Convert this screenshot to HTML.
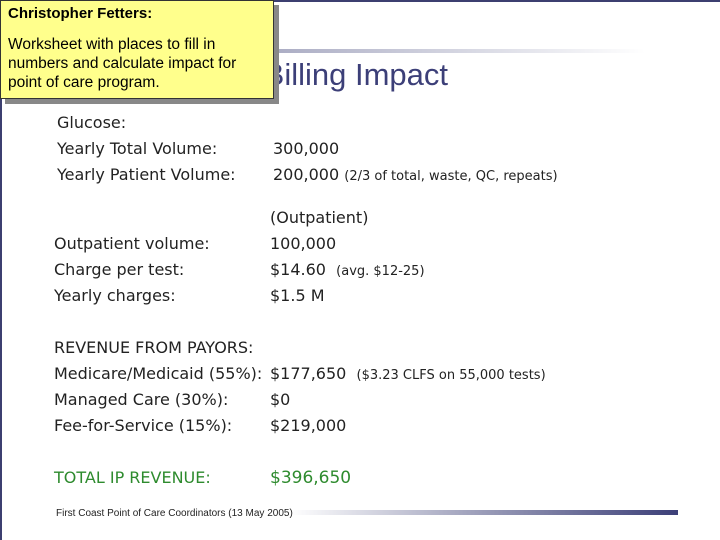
<!DOCTYPE html>
<html><head><meta charset="utf-8"><style>
body{margin:0;width:720px;height:540px;position:relative;background:#fff;overflow:hidden;font-family:"DejaVu Sans","Liberation Sans",sans-serif;}
.t{position:absolute;white-space:nowrap;font-size:16px;color:#222;line-height:20px;}
.s{font-size:13px;}
</style></head><body>
<div style="position:absolute;left:0;top:0;width:720px;height:2px;background:#3c3f70"></div>
<div style="position:absolute;left:0;top:0;width:2px;height:540px;background:#3c3f70"></div>
<div style="position:absolute;left:200px;top:49px;width:445px;height:4px;background:linear-gradient(to right,#9a9cb8,#fff)"></div>
<div class="t" style="right:272px;top:56px;font-family:'Liberation Sans',sans-serif;font-size:31px;line-height:38px;color:#3c3f78">Billing Impact</div>

<div style="position:absolute;left:0;top:0;width:272px;height:97px;background:#ffff8c;border:1px solid #333;box-shadow:5px 5px 0 #888;font-family:'Liberation Sans',sans-serif;color:#000">
<div style="position:absolute;left:7px;top:4px;font-size:15px;font-weight:bold;white-space:nowrap">Christopher Fetters:</div>
<div style="position:absolute;left:7px;top:34px;font-size:15.5px;line-height:19px;white-space:nowrap">Worksheet with places to fill in<br>numbers and calculate impact for<br>point of care program.</div>
</div>

<div class="t" style="left:57px;top:113px">Glucose:</div>
<div class="t" style="left:57px;top:139px">Yearly Total Volume:</div>
<div class="t" style="left:273px;top:139px">300,000</div>
<div class="t" style="left:57px;top:165px">Yearly Patient Volume:</div>
<div class="t" style="left:273px;top:165px">200,000 <span class="s">(2/3 of total, waste, QC, repeats)</span></div>

<div class="t" style="left:270px;top:208px">(Outpatient)</div>
<div class="t" style="left:54px;top:234px">Outpatient volume:</div>
<div class="t" style="left:270px;top:234px">100,000</div>
<div class="t" style="left:54px;top:260px">Charge per test:</div>
<div class="t" style="left:270px;top:260px">$14.60 &nbsp;<span class="s">(avg. $12-25)</span></div>
<div class="t" style="left:54px;top:286px">Yearly charges:</div>
<div class="t" style="left:270px;top:286px">$1.5 M</div>

<div class="t" style="left:54px;top:338px">REVENUE FROM PAYORS:</div>
<div class="t" style="left:54px;top:364px">Medicare/Medicaid (55%):</div>
<div class="t" style="left:270px;top:364px">$177,650 &nbsp;<span class="s">($3.23 CLFS on 55,000 tests)</span></div>
<div class="t" style="left:54px;top:390px">Managed Care (30%):</div>
<div class="t" style="left:270px;top:390px">$0</div>
<div class="t" style="left:54px;top:416px">Fee-for-Service (15%):</div>
<div class="t" style="left:270px;top:416px">$219,000</div>

<div class="t" style="left:54px;top:468px;color:#2e8b2e">TOTAL IP REVENUE:</div>
<div class="t" style="left:270px;top:468px;color:#2e8b2e;font-size:17px">$396,650</div>

<div style="position:absolute;left:290px;top:510px;width:388px;height:5px;background:linear-gradient(to right,#fff,#9a9cb8 50%,#3c3f78)"></div>
<div class="t" style="left:56px;top:507px;font-family:'Liberation Sans',sans-serif;font-size:10px;line-height:14px;color:#222">First Coast Point of Care Coordinators (13 May 2005)</div>
</body></html>
